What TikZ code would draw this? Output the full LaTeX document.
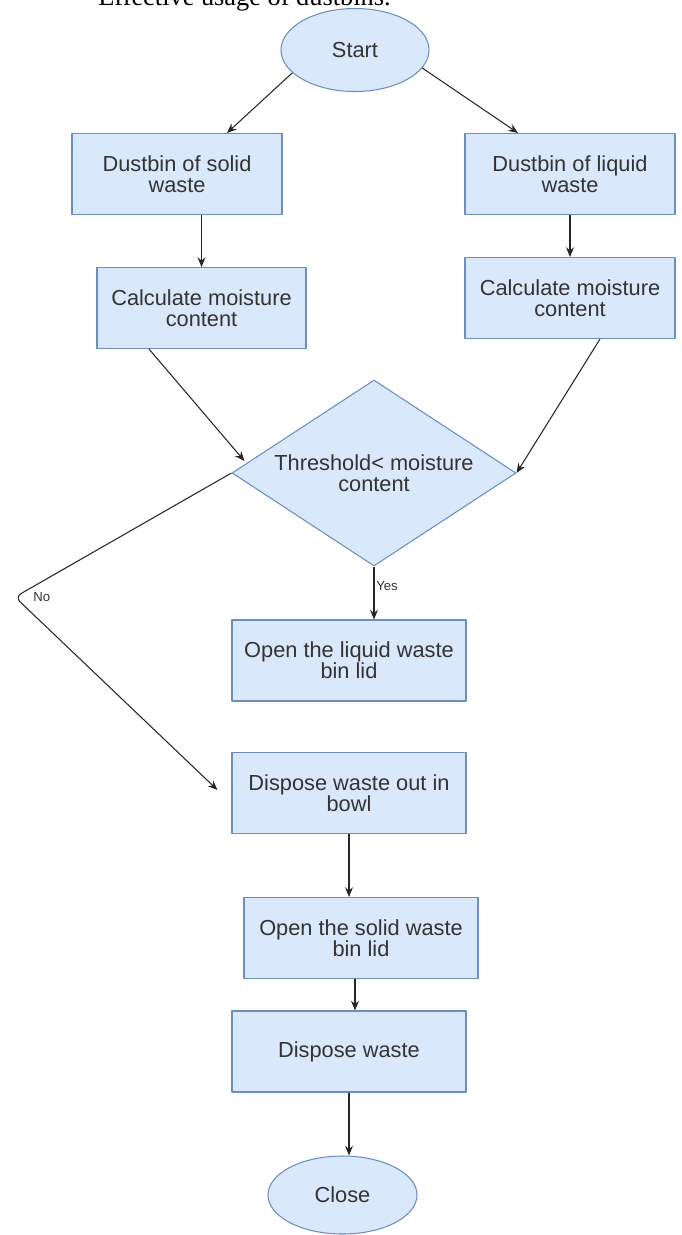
\documentclass[tikz,border=0pt]{standalone}
\usepackage{fontspec}
\setmainfont{Liberation Sans}
\newfontfamily\titlefont{Liberation Serif}
\usetikzlibrary{shapes.geometric,arrows.meta,calc}
\definecolor{boxfill}{HTML}{DAE8FC}
\definecolor{boxline}{HTML}{6C8EBF}
\definecolor{txtgray}{HTML}{333333}
\def\px{0.02cm}
\begin{document}
\begin{tikzpicture}[x=\px, y=-\px, line join=round, >={Stealth[length=5.5pt,width=4.5pt]},
	font=\fontsize{12.4}{12}\selectfont,
	box/.style={rectangle, draw=boxline, fill=boxfill, line width=0.6pt, text=txtgray,
		align=center, inner sep=0pt, minimum width=#1*\px, minimum height=81*\px},
	box/.default=234,
	term/.style={ellipse, draw=boxline, fill=boxfill, line width=0.6pt, text=txtgray, inner sep=0pt},
	decision/.style={diamond, aspect=1.53, draw=boxline, fill=boxfill, line width=0.6pt, text=txtgray,
		align=center, inner sep=0pt, minimum width=284*\px, minimum height=186*\px},
	arr/.style={->, line width=0.6pt, draw=black!85},
	lbl/.style={font=\fontsize{7.5}{9}\selectfont, text=txtgray, inner sep=1pt}]
	\useasboundingbox (0,0) rectangle (682,1235);
	
	% Title line, cut at the top of the page
	\node[anchor=base west, inner sep=0pt, font=\titlefont\fontsize{15}{18}\selectfont] (title) at (98,5) {Effective usage of dustbins.};
	
	% Start and the two dustbins
	\node[term, minimum width=148*\px, minimum height=83*\px] (start) at (355,50) {Start};
	\node[box=210] (solid) at (177,174) {Dustbin of solid\\waste};
	\node[box=210] (liquid) at (570,174) {Dustbin of liquid\\waste};
	
	% Moisture content
	\node[box=209] (calcL) at (201.5,308) {Calculate moisture\\content};
	\node[box=210] (calcR) at (570,298) {Calculate moisture\\content};
	
	% Decision
	\node[decision] (dec) at (374,473) {Threshold< moisture\\content};
	
	% Lower chain
	\node[box] (liqlid) at (349,660.5) {Open the liquid waste\\bin lid};
	\node[box] (bowl) at (349,793) {Dispose waste out in\\bowl};
	\node[box] (solidlid) at (361,938) {Open the solid waste\\bin lid};
	\node[box] (dispose) at (349,1051.5) {Dispose waste};
	\node[term, minimum width=149*\px, minimum height=78*\px] (close) at (342.5,1195) {Close};
	
	\coordinate (bend) at (15,597);
	
	% Arrows
	\draw[arr] (start.200) -- ($(solid.north)+(50,0)$);
	\draw[arr] (start.-15) -- ($(liquid.north)+(-52,0)$);
	\draw[arr] (solid.south -| calcL.north) -- (calcL.north);
	\draw[arr] (liquid.south) -- (calcR.north);
	\draw[arr] ($(calcL.south)+(-52.5,0)$) -- ($(dec.west)+(13,-12)$);
	\draw[arr] ($(calcR.south)+(30,0)$) -- (dec.east);
	\draw[arr] (dec.south) -- node[lbl, anchor=west, pos=0.37] {Yes} (dec.south |- liqlid.north);
	\draw[arr, rounded corners=4pt] (dec.west) -- (bend) node[lbl, anchor=west, xshift=16*\px] {No} -- ($(bowl.west)+(-14,-3)$);
	\draw[arr] (bowl.south) -- (bowl.south |- solidlid.north);
	\draw[arr] ($(solidlid.south)+(-6,0)$) -- ($(dispose.north)+(6,0)$);
	\draw[arr] (dispose.south) -- (dispose.south |- close.north);
\end{tikzpicture}
\end{document}
